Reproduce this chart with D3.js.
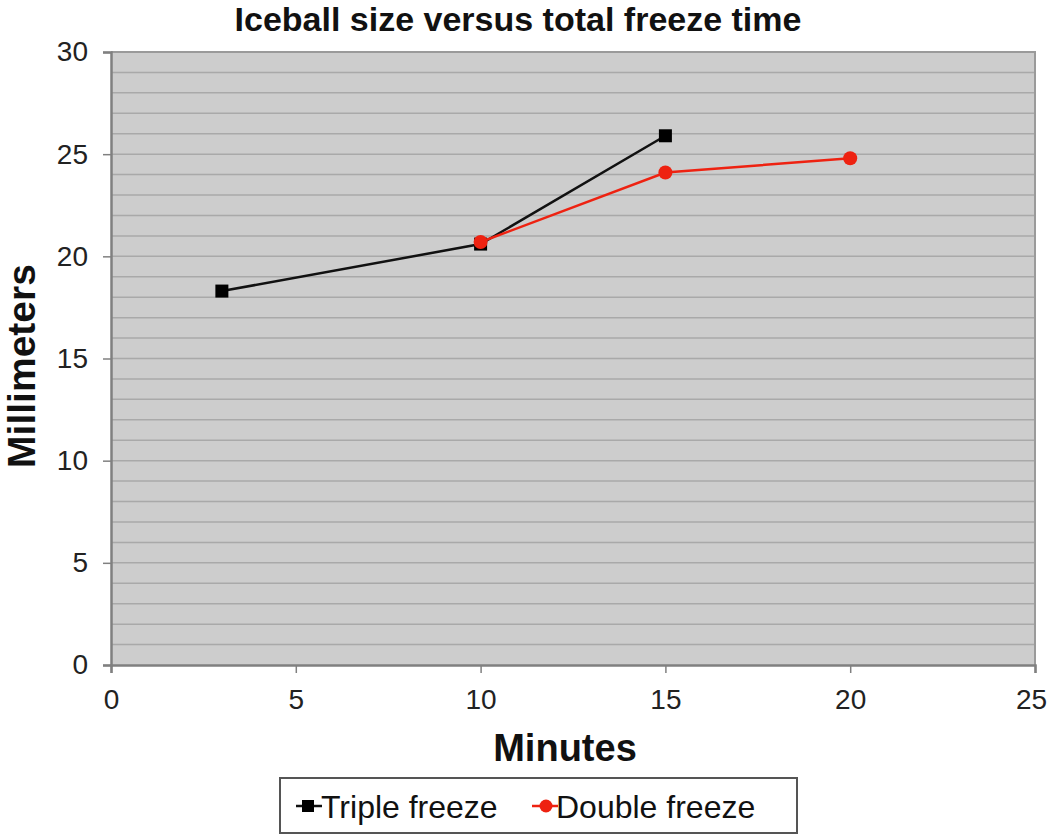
<!DOCTYPE html>
<html><head><meta charset="utf-8">
<script src="https://cdn.jsdelivr.net/npm/d3@7"></script>
<style>body{margin:0;background:#fff;}svg{display:block;font-family:"Liberation Sans",Arial,sans-serif;}</style>
</head><body>
<svg id="c" width="1050" height="836"></svg>
<script>
const tripleX = [3, 10, 15];
const tripleY = [18.3, 20.6, 25.9];
const doubleX = [10, 15, 20];
const doubleY = [20.7, 24.1, 24.8];
const xTicks = [0, 5, 10, 15, 20, 25];
const yTicks = [0, 5, 10, 15, 20, 25, 30];
const seriesNames = ["Triple freeze", "Double freeze"];

const svg = d3.select("#c");
const L = 111, R = 1035, T = 52, B = 665;
const x = d3.scaleLinear().domain([0, 25]).range([L, R]);
const y = d3.scaleLinear().domain([0, 30]).range([B, T]);

svg.append("rect").attr("x", L).attr("y", T).attr("width", R - L).attr("height", B - T).attr("fill", "#cdcdcd");
svg.append("g").selectAll("line").data(d3.range(1, 30)).join("line")
  .attr("x1", L).attr("x2", R).attr("y1", d => y(d)).attr("y2", d => y(d))
  .attr("stroke", "#a9a9a9").attr("stroke-width", 1.5);
svg.append("path").attr("d", `M${L},${T}H${R}V${B}`).attr("fill", "none").attr("stroke", "#9a9a9a").attr("stroke-width", 2);

const yAxis = svg.append("g").attr("transform", `translate(${L},0)`)
  .call(d3.axisLeft(y).tickValues(yTicks).tickSize(8).tickPadding(15));
const xAxis = svg.append("g").attr("transform", `translate(0,${B})`)
  .call(d3.axisBottom(x).tickValues(xTicks).tickSize(8).tickPadding(16));
[yAxis, xAxis].forEach(a => {
  a.attr("font-size", 28).attr("font-family", "Liberation Sans, Arial, sans-serif");
  a.select(".domain").attr("stroke", "#808080").attr("stroke-width", 2.5);
  a.selectAll(".tick line").attr("stroke", "#808080").attr("stroke-width", 1.5);
  a.selectAll("text").attr("fill", "#222");
});
xAxis.selectAll(".tick text").filter(d => d === 25).attr("dx", "-4");

const line = d3.line().x(d => x(d[0])).y(d => y(d[1]));
const tri = tripleX.map((v, i) => [v, tripleY[i]]);
const dbl = doubleX.map((v, i) => [v, doubleY[i]]);

svg.append("path").datum(tri).attr("d", line).attr("fill", "none").attr("stroke", "#111").attr("stroke-width", 2.5);
svg.append("g").selectAll("rect").data(tri).join("rect")
  .attr("x", d => x(d[0]) - 6.5).attr("y", d => y(d[1]) - 6.5).attr("width", 13).attr("height", 13).attr("fill", "#000");
svg.append("path").datum(dbl).attr("d", line).attr("fill", "none").attr("stroke", "#ee2211").attr("stroke-width", 2.5);
svg.append("g").selectAll("circle").data(dbl).join("circle")
  .attr("cx", d => x(d[0])).attr("cy", d => y(d[1])).attr("r", 7).attr("fill", "#ee2211");

svg.append("text").attr("x", 518).attr("y", 31).attr("text-anchor", "middle")
  .attr("font-size", 34).attr("font-weight", "bold").attr("fill", "#111").text("Iceball size versus total freeze time");
svg.append("text").attr("x", 565).attr("y", 761).attr("text-anchor", "middle")
  .attr("font-size", 38).attr("font-weight", "bold").attr("fill", "#111").text("Minutes");
svg.append("text").attr("transform", "translate(35,366) rotate(-90)").attr("text-anchor", "middle")
  .attr("font-size", 39).attr("font-weight", "bold").attr("fill", "#111").text("Millimeters");

const lg = svg.append("g");
lg.append("rect").attr("x", 280).attr("y", 778).attr("width", 517).attr("height", 55)
  .attr("fill", "#fff").attr("stroke", "#555").attr("stroke-width", 2);
lg.append("line").attr("x1", 296).attr("x2", 322).attr("y1", 806).attr("y2", 806).attr("stroke", "#111").attr("stroke-width", 2.5);
lg.append("rect").attr("x", 302).attr("y", 800).attr("width", 12).attr("height", 12).attr("fill", "#000");
lg.append("text").attr("x", 321).attr("y", 818).attr("font-size", 32).attr("fill", "#111").text(seriesNames[0]);
lg.append("line").attr("x1", 532).attr("x2", 558).attr("y1", 806).attr("y2", 806).attr("stroke", "#ee2211").attr("stroke-width", 2.5);
lg.append("circle").attr("cx", 546).attr("cy", 806).attr("r", 6.5).attr("fill", "#ee2211");
lg.append("text").attr("x", 556).attr("y", 818).attr("font-size", 32).attr("fill", "#111").text(seriesNames[1]);
</script>
</body></html>
